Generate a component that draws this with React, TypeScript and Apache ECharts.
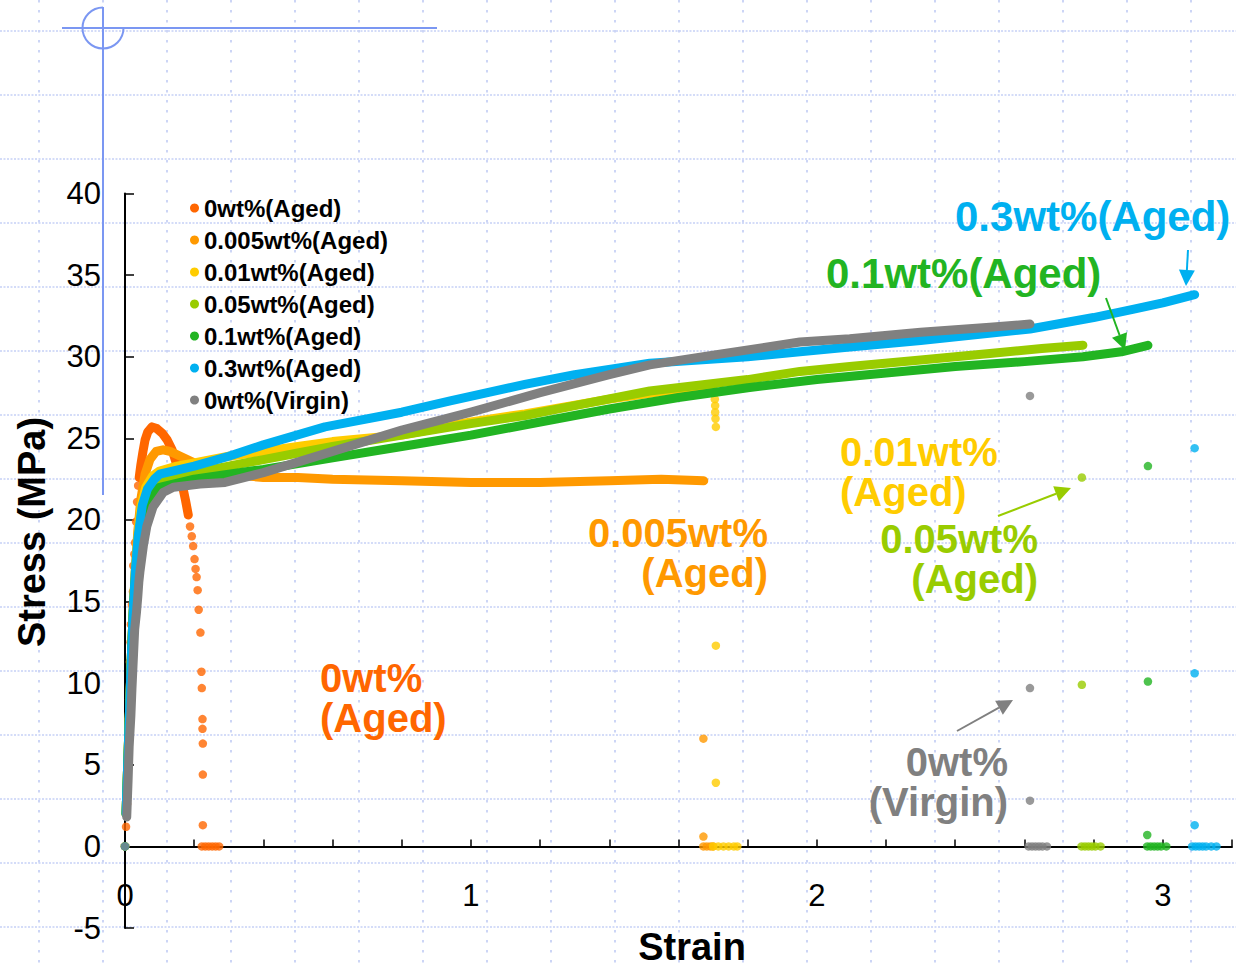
import React, { useEffect, useRef } from "react";
import * as echarts from "echarts";

const FONT = '"Liberation Sans", Arial, Helvetica, sans-serif';

// ---------- axes ----------
const xMin = 0;
const xMax = 3.2;
const xStep = 0.2;
const yMin = -5;
const yMax = 40;
const yStep = 5;

// ---------- series ----------
const seriesNames = [
  "0wt%(Aged)",
  "0.005wt%(Aged)",
  "0.01wt%(Aged)",
  "0.05wt%(Aged)",
  "0.1wt%(Aged)",
  "0.3wt%(Aged)",
  "0wt%(Virgin)",
];
const seriesColors = ["#ff6600", "#ff9900", "#ffcc00", "#99cc00", "#22b422", "#00b0f0", "#808080"];

// 0wt%(Aged): dense part + separate points
const aged0Curve = [
  [0.041, 22.6], [0.046, 23.4], [0.052, 24.2], [0.058, 24.9], [0.066, 25.4], [0.078, 25.7],
  [0.092, 25.6], [0.108, 25.3], [0.122, 24.9], [0.136, 24.3], [0.148, 23.5], [0.158, 22.8],
  [0.167, 22.0], [0.175, 21.2], [0.183, 20.3],
];
const aged0Dots = [
  [0, 0], [0.003, 1.2], [0.006, 2.6], [0.008, 3.6], [0.009, 5.2], [0.01, 6.3], [0.011, 7.8],
  [0.012, 9.0], [0.014, 11.3], [0.016, 12.5], [0.017, 13.6], [0.02, 14.8], [0.023, 15.6],
  [0.024, 17.2], [0.027, 17.9], [0.029, 18.6], [0.032, 19.9], [0.035, 21.1], [0.038, 22.1],
  [0.188, 19.6], [0.193, 19.0], [0.197, 18.4], [0.201, 17.6], [0.204, 17.0], [0.207, 16.5],
  [0.21, 15.7], [0.213, 14.5], [0.218, 13.1], [0.221, 10.7], [0.222, 9.7], [0.224, 7.8],
  [0.224, 7.2], [0.225, 6.3], [0.225, 4.4], [0.225, 1.3], [0.222, 0], [0.232, 0], [0.242, 0],
  [0.252, 0], [0.262, 0], [0.272, 0],
];

// 0.005wt%(Aged)
const aged005Curve = [
  [0.003, 2.0], [0.007, 4.5], [0.011, 7.0], [0.015, 9.5], [0.019, 12.0], [0.024, 14.5],
  [0.03, 17.0], [0.037, 19.3], [0.046, 21.3], [0.058, 22.8], [0.072, 23.7], [0.09, 24.2],
  [0.11, 24.3], [0.13, 24.2], [0.16, 23.9], [0.2, 23.5], [0.25, 23.0], [0.3, 22.8], [0.4, 22.6],
  [0.5, 22.6], [0.6, 22.5], [0.8, 22.4], [1.0, 22.3], [1.2, 22.3], [1.4, 22.4], [1.55, 22.5],
  [1.673, 22.4],
];
const aged005Dots = [[0, 0], [1.672, 6.6], [1.672, 0.6], [1.672, 0], [1.682, 0], [1.692, 0], [1.7, 0]];

// 0.01wt%(Aged)
const aged01Curve = [
  [0.003, 2.0], [0.007, 4.5], [0.011, 7.0], [0.015, 9.5], [0.019, 12.0], [0.024, 14.5],
  [0.03, 17.0], [0.037, 19.0], [0.046, 20.8], [0.06, 22.0], [0.08, 22.7], [0.1, 23.0],
  [0.15, 23.3], [0.2, 23.5], [0.3, 23.9], [0.4, 24.2], [0.5, 24.5], [0.6, 24.8], [0.8, 25.2],
  [0.9, 25.6], [1.0, 26.0], [1.156, 26.5], [1.4, 27.4], [1.6, 28.0], [1.7, 28.1],
];
const aged01Dots = [
  [0, 0], [1.705, 27.4], [1.706, 27.0], [1.706, 26.6], [1.707, 26.2], [1.708, 25.7],
  [1.708, 12.3], [1.708, 3.9], [1.7, 0], [1.715, 0], [1.73, 0], [1.745, 0], [1.76, 0], [1.77, 0],
];

// 0.05wt%(Aged)
const aged05Curve = [
  [0.003, 2.0], [0.007, 4.5], [0.011, 7.0], [0.015, 9.5], [0.019, 12.0], [0.024, 14.5],
  [0.03, 16.8], [0.038, 18.8], [0.048, 20.4], [0.065, 21.6], [0.085, 22.2], [0.1, 22.5],
  [0.15, 22.7], [0.2, 22.9], [0.3, 23.3], [0.4, 23.7], [0.5, 24.1], [0.6, 24.5], [0.8, 25.2],
  [1.0, 25.9], [1.156, 26.4], [1.3, 27.0], [1.517, 27.9], [1.8, 28.6], [1.951, 29.1],
  [2.095, 29.4], [2.3, 29.8], [2.5, 30.2], [2.65, 30.5], [2.769, 30.7],
];
const aged05Dots = [
  [0, 0], [2.766, 22.6], [2.766, 9.9], [2.765, 0], [2.775, 0], [2.785, 0], [2.795, 0], [2.805, 0], [2.82, 0],
];

// 0.1wt%(Aged)
const aged1Curve = [
  [0.003, 2.0], [0.007, 4.5], [0.011, 7.0], [0.015, 9.5], [0.019, 12.0], [0.024, 14.5],
  [0.031, 16.7], [0.04, 18.6], [0.05, 20.0], [0.065, 21.2], [0.085, 21.8], [0.1, 22.0],
  [0.2, 22.5], [0.3, 22.8], [0.4, 23.1], [0.6, 23.8], [0.8, 24.5], [1.0, 25.2], [1.2, 26.0],
  [1.4, 26.8], [1.6, 27.5], [1.8, 28.1], [2.0, 28.6], [2.2, 29.0], [2.4, 29.4], [2.6, 29.7],
  [2.769, 30.0], [2.88, 30.3], [2.957, 30.7],
];
const aged1Dots = [
  [0, 0], [2.957, 23.3], [2.957, 10.1], [2.955, 0.7], [2.955, 0], [2.965, 0], [2.975, 0],
  [2.985, 0], [2.995, 0], [3.01, 0],
];

// 0.3wt%(Aged)
const aged3Curve = [
  [0.003, 2.0], [0.007, 4.5], [0.011, 7.0], [0.015, 9.5], [0.019, 12.0], [0.024, 14.5],
  [0.03, 16.9], [0.038, 19.0], [0.05, 20.9], [0.065, 21.9], [0.085, 22.5], [0.1, 22.8],
  [0.2, 23.3], [0.3, 23.9], [0.4, 24.6], [0.578, 25.7], [0.8, 26.6], [0.94, 27.3], [1.156, 28.3],
  [1.3, 28.9], [1.517, 29.6], [1.8, 30.0], [1.951, 30.3], [2.095, 30.6], [2.3, 31.0],
  [2.616, 31.7], [2.8, 32.4], [2.913, 32.9], [3.0, 33.3], [3.092, 33.8],
];
const aged3Dots = [
  [0, 0], [3.092, 24.4], [3.092, 10.6], [3.092, 1.3], [3.085, 0], [3.095, 0], [3.105, 0],
  [3.115, 0], [3.125, 0], [3.14, 0], [3.155, 0],
];

// 0wt%(Virgin)
const virginCurve = [
  [0.005, 1.8], [0.009, 4.1], [0.012, 6.1], [0.017, 8.0], [0.02, 9.6], [0.023, 11.0],
  [0.028, 13.3], [0.033, 14.3], [0.037, 15.3], [0.04, 16.2], [0.043, 16.8], [0.048, 17.6],
  [0.053, 18.4], [0.063, 19.6], [0.081, 20.8], [0.111, 21.7], [0.14, 22.0], [0.217, 22.2],
  [0.289, 22.3], [0.4, 22.9], [0.6, 24.2], [0.8, 25.5], [1.0, 26.6], [1.2, 27.8], [1.4, 28.9],
  [1.517, 29.5], [1.7, 30.1], [1.951, 30.9], [2.095, 31.1], [2.3, 31.5], [2.5, 31.8], [2.616, 32.0],
];
const virginDots = [
  [0, 0], [2.616, 27.6], [2.616, 9.7], [2.616, 2.8], [2.612, 0], [2.622, 0], [2.632, 0],
  [2.642, 0], [2.652, 0], [2.665, 0],
];

const curves = [aged0Curve, aged005Curve, aged01Curve, aged05Curve, aged1Curve, aged3Curve, virginCurve];
const dots = [aged0Dots, aged005Dots, aged01Dots, aged05Dots, aged1Dots, aged3Dots, virginDots];

// ---------- annotations ----------
const annotations = [
  { text: "0.3wt%(Aged)", color: "#00b0f0", x: 955, y: 216, align: "left" },
  { text: "0.1wt%(Aged)", color: "#22b422", x: 826, y: 273, align: "left" },
  { text: "0.01wt%\n(Aged)", color: "#ffcc00", x: 840, y: 472, align: "left" },
  { text: "0.05wt%\n(Aged)", color: "#99cc00", x: 1038, y: 559, align: "right" },
  { text: "0.005wt%\n(Aged)", color: "#ff9900", x: 768, y: 553, align: "right" },
  { text: "0wt%\n(Aged)", color: "#ff6600", x: 320, y: 698, align: "left" },
  { text: "0wt%\n(Virgin)", color: "#808080", x: 1008, y: 782, align: "right" },
];

const arrows = [
  { from: [1188, 250], to: [1186, 286], color: "#00b0f0" },
  { from: [1106, 298], to: [1125, 350], color: "#22b422" },
  { from: [998, 516], to: [1071, 488], color: "#99cc00" },
  { from: [957, 731], to: [1013, 700], color: "#808080" },
];

function arrowEls(a: any) {
  const [x1, y1] = a.from;
  const [x2, y2] = a.to;
  const dx = x2 - x1, dy = y2 - y1;
  const L = Math.hypot(dx, dy);
  const ux = dx / L, uy = dy / L;
  const headLen = 16, half = 8;
  const bx = x2 - ux * headLen, by = y2 - uy * headLen;
  const px = -uy, py = ux;
  return [
    { type: "line", z: 20, silent: true, shape: { x1, y1, x2: bx, y2: by }, style: { stroke: a.color, lineWidth: 2 } },
    {
      type: "polygon", z: 20, silent: true,
      shape: { points: [[x2, y2], [bx + px * half, by + py * half], [bx - px * half, by - py * half]] },
      style: { fill: a.color },
    },
  ];
}

function textEl(text: string, x: number, y: number, color: string, size: number, align: string, extra: any = {}) {
  return {
    type: "text", z: 20, silent: true, x, y, ...extra,
    style: {
      text, x: 0, y: 0, fill: color, fontSize: size, fontWeight: "bold", fontFamily: FONT,
      lineHeight: size,
      align, textAlign: align, verticalAlign: "middle", textVerticalAlign: "middle",
    },
  };
}

function buildGraphics() {
  const els: any[] = [];
  // dotted background pattern
  for (let y = 31; y <= 968; y += 64) {
    els.push({ type: "line", z: -10, silent: true, shape: { x1: 0, y1: y, x2: 1236, y2: y },
      style: { stroke: "#c6d1f6", lineWidth: 1.5, lineDash: [2, 1.5] } });
  }
  for (let x = 39; x <= 1236; x += 64) {
    els.push({ type: "line", z: -10, silent: true, shape: { x1: x, y1: 0, x2: x, y2: 968 },
      style: { stroke: "#ccd5f6", lineWidth: 2, lineDash: [2.5, 7.5] } });
  }
  // blue decoration
  const deco = "#7b97f2";
  els.push({ type: "line", z: -5, silent: true, shape: { x1: 103, y1: 7, x2: 103, y2: 495 }, style: { stroke: deco, lineWidth: 2 } });
  els.push({ type: "line", z: -5, silent: true, shape: { x1: 62, y1: 28, x2: 437, y2: 28 }, style: { stroke: deco, lineWidth: 2 } });
  els.push({ type: "arc", z: -5, silent: true, shape: { cx: 103, cy: 28, r: 20.5, startAngle: 0, endAngle: Math.PI * 1.5, clockwise: true },
    style: { stroke: deco, lineWidth: 2, fill: "none" } });
  // annotations
  for (const a of annotations) {
    const size = a.text.includes("\n") ? 40 : 42;
    els.push(textEl(a.text, a.x, a.y, a.color, size, a.align));
  }
  for (const a of arrows) els.push(...arrowEls(a));
  // axis titles
  els.push(textEl("Stress (MPa)", 32, 532, "#000", 38, "center", { rotation: Math.PI / 2 }));
  els.push(textEl("Strain", 692, 947, "#000", 38, "center"));
  return els;
}

function buildOption() {
  const series: any[] = [];
  seriesNames.forEach((name, i) => {
    series.push({
      name, type: "line", data: curves[i], showSymbol: false, symbol: "none",
      itemStyle: { color: seriesColors[i] },
      lineStyle: { color: seriesColors[i], width: 9, cap: "round", join: "round" },
      z: 2 + i * 0.1,
    });
    series.push({
      name, type: "scatter", data: dots[i], symbol: "circle", symbolSize: 8.5,
      itemStyle: { color: seriesColors[i] }, z: 2 + i * 0.1,
    });
  });
  return {
    animation: false,
    backgroundColor: "#ffffff",
    textStyle: { fontFamily: FONT },
    grid: { left: 125, right: 4, top: 193.5, bottom: 40, containLabel: false, outerBoundsMode: "none" },
    legend: {
      data: seriesNames, orient: "vertical", left: 185, top: 191, icon: "circle",
      itemWidth: 9, itemHeight: 9, itemGap: 8,
      textStyle: { fontSize: 24, fontWeight: "bold", color: "#000", fontFamily: FONT, lineHeight: 24, padding: [0, 0, 0, 0] },
    },
    xAxis: {
      type: "value", min: xMin, max: xMax, interval: xStep,
      axisLine: { onZero: true, lineStyle: { color: "#000", width: 2 } },
      axisTick: { inside: true, length: 7, lineStyle: { color: "#000", width: 1.5 } },
      axisLabel: {
        margin: -48, fontSize: 31, color: "#000", fontFamily: FONT,
        formatter: (v: number) => (Math.abs(v - Math.round(v)) < 1e-6 ? String(Math.round(v)) : ""),
      },
      splitLine: { show: false },
    },
    yAxis: {
      type: "value", min: yMin, max: yMax, interval: yStep,
      axisLine: { show: true, lineStyle: { color: "#000", width: 2 } },
      axisTick: { show: true, inside: true, length: 9, lineStyle: { color: "#000", width: 1.5 } },
      axisLabel: { margin: 24, fontSize: 31, color: "#000", fontFamily: FONT },
      splitLine: { show: false },
    },
    graphic: { elements: buildGraphics() },
    series,
  };
}

export default function App() {
  const ref = useRef<HTMLDivElement>(null);
  useEffect(() => {
    if (!ref.current) return;
    const chart = echarts.init(ref.current, null, { renderer: "svg" });
    chart.setOption(buildOption() as any);
    return () => chart.dispose();
  }, []);
  return (
    <div
      ref={ref}
      style={{ position: "fixed", left: 0, top: 0, width: 1236, height: 968, background: "#fff" }}
    />
  );
}
